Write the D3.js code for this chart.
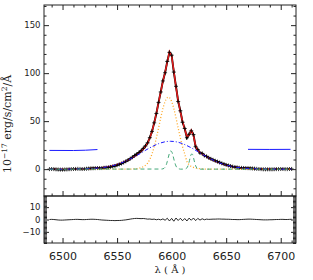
<!doctype html>
<html>
<head>
<meta charset="utf-8">
<script src="https://cdnjs.cloudflare.com/ajax/libs/d3/7.8.5/d3.min.js"></script>
<style>
  body { margin: 0; background: #fff; }
  svg { display: block; }
</style>
</head>
<body>
<svg id="chart" width="313" height="280"></svg>
<script>
// observed spectrum, 2 A sampling starting at 6488 A
var waveStart = 6488, waveStep = 2;
var flux = [0.0, 0.1, 0.0, -0.2, -0.4, -0.5, -0.5, -0.4, -0.3, -0.1,
  0.0, 0.1, 0.2, 0.3, 0.2, 0.1, 0.2, 0.4, 0.6, 0.8,
  0.9, 1.0, 1.1, 1.1, 1.1, 1.4, 1.6, 1.9, 2.3, 2.8,
  3.3, 4.1, 4.9, 5.8, 6.9, 8.1, 9.4, 10.8, 12.4, 14.1,
  15.6, 17.3, 19.1, 21.6, 24.2, 27.4, 32.8, 39.3, 48.2, 57.9,
  69.5, 80.4, 91.9, 100.4, 112.2, 121.6, 118.7, 101.1, 86.3, 70.5,
  60.8, 48.8, 42.3, 32.7, 36.3, 39.9, 36.0, 23.3, 20.3, 16.8,
  16.4, 14.1, 13.3, 11.8, 10.7, 9.7, 8.7, 7.8, 6.9, 6.0,
  5.2, 4.4, 3.8, 3.2, 2.6, 2.2, 1.8, 1.4, 1.3, 1.2,
  1.1, 1.0, 0.9, 0.7, 0.5, 0.3, 0.1, 0.0, -0.2, -0.2,
  -0.2, -0.2, -0.2, -0.1, 0.0, 0.0, 0.1, 0.1, 0.0, 0.0,
  0.1, 0.2];
// total fit, same sampling
var model = [0, 0, 0, 0, 0, 0, 0, 0, 0, 0.1,
  0.1, 0.1, 0.1, 0.2, 0.2, 0.2, 0.3, 0.4, 0.5, 0.6,
  0.7, 0.9, 1.1, 1.3, 1.5, 1.9, 2.2, 2.6, 3.1, 3.6,
  4.2, 4.9, 5.7, 6.5, 7.4, 8.4, 9.4, 10.5, 11.8, 13.3,
  14.7, 16.5, 18.4, 20.8, 23.6, 27.1, 32.4, 39.2, 47.9, 58.1,
  69.3, 80.7, 91.4, 101.0, 111.2, 122.4, 117.8, 102.5, 85.1, 71.3,
  59.8, 49.8, 41.5, 33.9, 35.2, 40.5, 34.8, 24.2, 19.4, 17.3,
  15.8, 14.3, 13.0, 11.7, 10.5, 9.4, 8.4, 7.4, 6.5, 5.7,
  4.9, 4.2, 3.6, 3.1, 2.6, 2.2, 1.9, 1.5, 1.3, 1.1,
  0.9, 0.7, 0.6, 0.5, 0.4, 0.3, 0.2, 0.2, 0.1, 0.1,
  0.1, 0, 0, 0, 0, 0, 0, 0, 0, 0,
  0, 0];
// data - fit, same sampling
var resid = [0.0, 0.1, 0.0, -0.2, -0.4, -0.5, -0.5, -0.4, -0.3, -0.2,
  -0.1, 0.0, 0.1, 0.1, 0.0, -0.1, -0.1, 0.0, 0.1, 0.2,
  0.2, 0.1, 0.0, -0.2, -0.4, -0.5, -0.6, -0.7, -0.8, -0.8,
  -0.9, -0.8, -0.8, -0.7, -0.5, -0.3, 0.0, 0.3, 0.6, 0.8,
  0.9, 0.8, 0.7, 0.8, 0.6, 0.3, 0.4, 0.1, 0.3, -0.2,
  0.2, -0.3, 0.5, -0.6, 1.0, -1.2, 0.9, -1.4, 1.2, -0.8,
  1.0, -1.0, 0.8, -1.2, 1.1, -0.6, 1.2, -0.9, 0.9, -0.5,
  0.6, -0.2, 0.3, 0.1, 0.2, 0.3, 0.3, 0.4, 0.4, 0.3,
  0.3, 0.2, 0.2, 0.1, 0.0, 0.0, -0.1, -0.1, 0.0, 0.1,
  0.2, 0.3, 0.3, 0.2, 0.1, 0.0, -0.1, -0.2, -0.3, -0.3,
  -0.3, -0.2, -0.2, -0.1, 0.0, 0.0, 0.1, 0.1, 0.0, 0.0,
  0.1, 0.2];

// fit components
var broadWave = [6488, 6500, 6510, 6520, 6530, 6540, 6548, 6556, 6564, 6572, 6580, 6588, 6594, 6599,
  6604, 6610, 6618, 6626, 6634, 6642, 6650, 6658, 6668, 6678, 6688, 6700, 6710];
var broadFlux = [0, 0, 0.1, 0.3, 0.9, 2.2, 4.2, 7.4, 11.7, 16.9, 22.2, 26.5, 28.5, 29,
  28.5, 26.5, 22.2, 16.9, 11.7, 7.4, 4.2, 2.2, 0.9, 0.3, 0.1, 0, 0];
var narrowWave = [6488, 6560, 6564, 6566, 6568, 6570, 6572, 6574, 6576, 6578, 6580, 6582, 6584, 6586,
  6588, 6590, 6592, 6594, 6596, 6597, 6598, 6600, 6602, 6604, 6606, 6608, 6610, 6612, 6614, 6616,
  6618, 6620, 6622, 6624, 6626, 6628, 6630, 6634, 6710];
var narrowFlux = [0, 0, 0.1, 0.3, 0.5, 0.9, 1.5, 2.5, 4.0, 6.2, 10.2, 15.8, 23.3, 32.5,
  42.8, 53.4, 63.1, 70.5, 74.5, 75, 74.5, 70.5, 63.1, 53.4, 42.8, 32.5, 23.3, 15.8, 8.0, 4.5,
  2.8, 1.8, 1.1, 0.7, 0.4, 0.2, 0.1, 0, 0];
var niiWave = [6488, 6591, 6592, 6593, 6594, 6595, 6596, 6597, 6598, 6599, 6600, 6601, 6602, 6603,
  6604, 6605, 6606, 6607, 6608, 6612, 6613, 6614, 6615, 6616, 6617, 6618, 6619, 6620, 6621, 6622,
  6623, 6624, 6625, 6626, 6710];
var niiFlux = [0, 0.1, 0.3, 0.8, 2.0, 4.3, 7.9, 12.4, 16.6, 18.9, 18.3, 15.1, 10.6, 6.4,
  3.2, 1.4, 0.5, 0.2, 0, 0, 0.4, 1.3, 3.5, 7.3, 12.1, 15.5, 15.5, 12.1, 7.3, 3.5,
  1.3, 0.4, 0.1, 0, 0];
// continuum windows
var contLeftWave = [6488, 6510, 6532], contLeftFlux = [19.5, 19.4, 20.4];
var contRightWave = [6670, 6690, 6709], contRightFlux = [20.6, 20.5, 20.6];

var xTicks = [6500, 6550, 6600, 6650, 6700];
var yTicks = [0, 50, 100, 150];
var rTicks = [-10, 0, 10];

var svg = d3.select("#chart");
var pl = 44, pr = 296, pt = 5, pm = 196, pb = 243;

var x = d3.scaleLinear().domain([6483, 6714]).range([pl, pr]);
var y = d3.scaleLinear().domain([-28, 171]).range([pm, pt]);
var yr = d3.scaleLinear().domain([-19, 19]).range([pb, pm]);

var wave = flux.map(function(d, i) { return waveStart + i * waveStep; });
var pts = wave.map(function(w, i) { return {w: w, f: flux[i], m: model[i], r: resid[i]}; });

svg.append("clipPath").attr("id", "clipMain").append("rect")
  .attr("x", pl).attr("y", pt).attr("width", pr - pl).attr("height", pm - pt);
svg.append("clipPath").attr("id", "clipRes").append("rect")
  .attr("x", pl).attr("y", pm).attr("width", pr - pl).attr("height", pb - pm);

var main = svg.append("g").attr("clip-path", "url(#clipMain)");

// data line + fit
main.append("path")
  .attr("d", d3.line().x(d => x(d.w)).y(d => y(d.f))(pts))
  .attr("fill", "none").attr("stroke", "#000").attr("stroke-width", 1.9);
main.append("path")
  .attr("d", d3.line().x(d => x(d.w)).y(d => y(d.m))(pts))
  .attr("fill", "none").attr("stroke", "#e41a1a").attr("stroke-width", 1.5);
main.selectAll("path.pt")
  .data(pts)
  .enter()
  .append("path")
    .attr("class", "pt")
    .attr("d", d => "M" + (x(d.w) - 2) + "," + y(d.f) + "h4M" + x(d.w) + "," + (y(d.f) - 2) + "v4")
    .attr("stroke", "#000").attr("stroke-width", 0.8);

function comp(ws, fs, color, dash, width) {
  var data = ws.map((w, i) => [w, fs[i]]);
  main.append("path")
    .attr("d", d3.line().x(d => x(d[0])).y(d => y(d[1])).curve(d3.curveMonotoneX)(data))
    .attr("fill", "none")
    .attr("stroke", color)
    .attr("stroke-width", width)
    .attr("stroke-dasharray", dash);
}
comp(narrowWave, narrowFlux, "#ffa824", "1,2", 1.3);
comp(broadWave, broadFlux, "#1a1aff", "4,2,1,2", 1);
comp(niiWave, niiFlux, "#44a878", "4,3", 1);
comp(contLeftWave, contLeftFlux, "#1a1aff", null, 1);
comp(contRightWave, contRightFlux, "#1a1aff", null, 1);

// residuals
svg.append("g").attr("clip-path", "url(#clipRes)")
  .append("path")
  .attr("d", d3.line().x(d => x(d.w)).y(d => yr(d.r))(pts))
  .attr("fill", "none").attr("stroke", "#111").attr("stroke-width", 0.9);

// axes
function axis(gen, tx, ty, vals, size, labels, fs, pad) {
  var g = svg.append("g").attr("transform", "translate(" + tx + "," + ty + ")");
  g.call(gen.tickValues(vals).tickSize(size).tickPadding(pad || 3)
    .tickFormat(labels ? (d => d < 0 ? "\u2212" + (-d) : d) : ""));
  g.select(".domain").remove();
  g.selectAll(".tick line").attr("stroke", "#222").attr("stroke-width", 1);
  g.selectAll("text").attr("font-family", "DejaVu Sans").attr("font-size", fs).attr("fill", "#222");
  return g;
}
var xMinor = d3.range(6490, 6714, 10).filter(v => v % 50 != 0);
var yMinor = d3.range(-20, 171, 10).filter(v => v % 50 != 0);
var rMinor = d3.range(-19, 20, 1).filter(v => v % 10 != 0);

axis(d3.axisTop(x), 0, pt, xTicks, -5);
axis(d3.axisTop(x), 0, pt, xMinor, -2.5);
axis(d3.axisBottom(x), 0, pm, xTicks, -5);
axis(d3.axisBottom(x), 0, pm, xMinor, -2.5);
axis(d3.axisLeft(y), pl, 0, yTicks, -5, true, 8.5, 3.5);
axis(d3.axisLeft(y), pl, 0, yMinor, -2.5);
axis(d3.axisRight(y), pr, 0, yTicks, -5);
axis(d3.axisRight(y), pr, 0, yMinor, -2.5);

axis(d3.axisBottom(x), 0, pb, xTicks, -5, true, 11, 9.5);
axis(d3.axisBottom(x), 0, pb, xMinor, -2.5);
axis(d3.axisLeft(yr), pl, 0, rTicks, -5, true, 8.5, 3.5);
axis(d3.axisLeft(yr), pl, 0, rMinor, -3);
axis(d3.axisRight(yr), pr, 0, rTicks, -5);
axis(d3.axisRight(yr), pr, 0, rMinor, -3);

// frames
[[pt, pm], [pm, pb]].forEach(function(p) {
  svg.append("rect")
    .attr("x", pl).attr("y", p[0]).attr("width", pr - pl).attr("height", p[1] - p[0])
    .attr("fill", "none").attr("stroke", "#222").attr("stroke-width", 1);
});

// titles
var yt = svg.append("text")
  .attr("transform", "translate(11," + ((pt + pb) / 2) + ") rotate(-90)")
  .attr("text-anchor", "middle")
  .attr("font-family", "DejaVu Serif")
  .attr("font-size", 11)
  .attr("fill", "#222");
yt.append("tspan").text("10");
yt.append("tspan").attr("font-size", 7.5).attr("dy", -4).text("\u221217");
yt.append("tspan").attr("dy", 4).text(" erg/s/cm");
yt.append("tspan").attr("font-size", 7.5).attr("dy", -4).text("2");
yt.append("tspan").attr("dy", 4).text("/\u00c5");

svg.append("text")
  .attr("x", (pl + pr) / 2).attr("y", 272.5)
  .attr("text-anchor", "middle")
  .attr("font-family", "DejaVu Serif")
  .attr("font-size", 10)
  .attr("fill", "#222")
  .text("\u03bb ( \u00c5 )");
</script>
</body>
</html>
